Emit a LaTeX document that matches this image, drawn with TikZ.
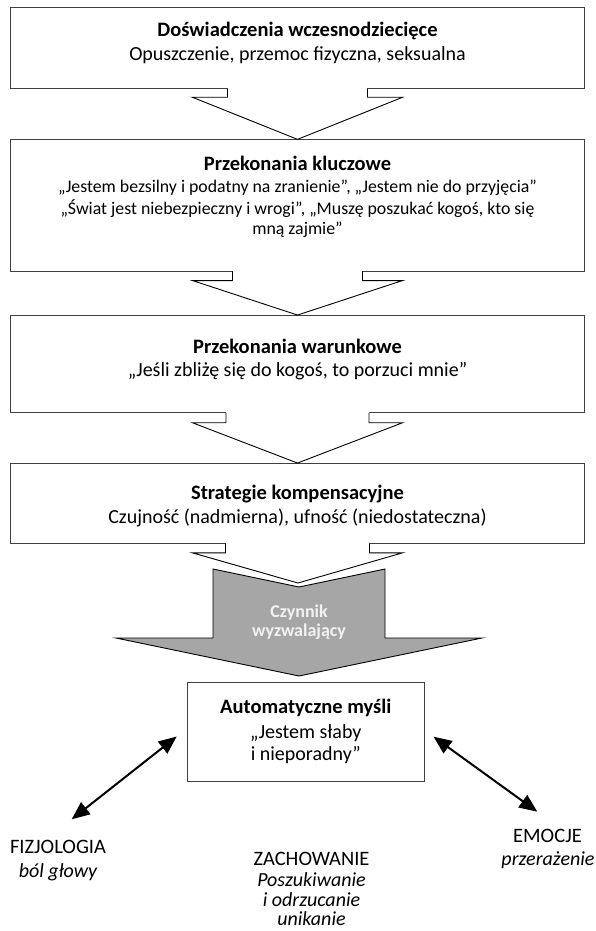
\documentclass[tikz,border=0pt]{standalone}
\usepackage{fontspec}
\setmainfont{Carlito}
\usetikzlibrary{calc,arrows.meta}

\definecolor{boxline}{HTML}{404040}
\definecolor{triggerfill}{HTML}{A6A6A6}
\definecolor{triggertext}{HTML}{F2F2F2}

\newcommand\titlesize{\fontsize{20.5}{24}\selectfont}
\newcommand\bodysize{\fontsize{20}{24}\selectfont}
\newcommand\smallbodysize{\fontsize{17.8}{21}\selectfont}

% open block arrow hanging below a box: #1 upper box, #2 tip, #3 stem half width, #4 depth of the head base
\newcommand\downchevron[4]{%
  \fill[white] ($(#1.south)+(-#3,-1.5)$) -- ($(#1.south)+(-#3,#4)$) -- ($(#1.south)+(-105,#4)$)
     -- (#2) -- ($(#1.south)+(105,#4)$) -- ($(#1.south)+(#3,#4)$) -- ($(#1.south)+(#3,-1.5)$) -- cycle;
  \draw[chevronline] ($(#1.south)+(-#3,0)$) -- ($(#1.south)+(-#3,#4)$) -- ($(#1.south)+(-105,#4)$)
     -- (#2) -- ($(#1.south)+(105,#4)$) -- ($(#1.south)+(#3,#4)$) -- ($(#1.south)+(#3,0)$);
}

\begin{document}
\begin{tikzpicture}[x=1pt,y=-1pt,
  box/.style={draw=boxline, line width=1.1pt, fill=white, inner sep=0pt, outer sep=0pt, minimum width=574pt},
  title/.style={font=\titlesize\bfseries, inner sep=0pt},
  body/.style={font=\bodysize, inner sep=0pt},
  smallbody/.style={font=\smallbodysize, inner sep=0pt},
  label/.style={font=\titlesize, inner sep=0pt},
  note/.style={font=\bodysize\itshape, inner sep=0pt},
  chevronline/.style={draw=black, line width=0.9pt, line join=miter},
  twoway/.style={{Triangle[length=18pt,width=15pt]}-{Triangle[length=18pt,width=15pt]}, line width=2pt}]

\useasboundingbox (0,0) rectangle (595,931);

% boxes
\node[box, minimum height=81pt]   (b1) at (297.5,47.8)  {};
\node[box, minimum height=131.7pt] (b2) at (297.5,205.2) {};
\node[box, minimum height=97.7pt] (b3) at (297.5,363.9) {};
\node[box, minimum height=80.3pt] (b4) at (297.5,503.2) {};
\node[box, minimum width=237pt, minimum height=99pt] (b5) at (305.8,732.2) {};

% texts of the boxes
\node[title] (b1a) at (297.5,31) {Doświadczenia wczesnodziecięce};
\node[body]  (b1b) at (297.5,55) {Opuszczenie, przemoc fizyczna, seksualna};

\node[title]     (b2a) at (297.5,163) {Przekonania kluczowe};
\node[smallbody] (b2b) at (297.5,188) {„Jestem bezsilny i podatny na zranienie”, „Jestem nie do przyjęcia”};
\node[smallbody] (b2c) at (297.5,209) {„Świat jest niebezpieczny i wrogi”, „Muszę poszukać kogoś, kto się};
\node[smallbody] (b2d) at (297.5,230) {mną zajmie”};

\node[title] (b3a) at (297.5,346) {Przekonania warunkowe};
\node[body]  (b3b) at (297.5,371) {„Jeśli zbliżę się do kogoś, to porzuci mnie”};

\node[title] (b4a) at (297.5,494) {Strategie kompensacyjne};
\node[body]  (b4b) at (297.5,518) {Czujność (nadmierna), ufność (niedostateczna)};

\node[title] (b5a) at (305.8,707.5) {Automatyczne myśli};
\node[body]  (b5b) at (305.8,733) {„Jestem słaby};
\node[body]  (b5c) at (305.8,755) {i nieporadny”};

% open arrows between the boxes
\coordinate (t4) at (298,583);
\downchevron{b1}{b2.north}{70}{9}
\downchevron{b2}{b3.north}{65}{9.5}
\downchevron{b3}{b4.north}{71.5}{10}
\downchevron{b4}{t4}{72}{9.5}

% grey trigger arrow
\filldraw[fill=triggerfill, draw=black, line width=0.9pt, line join=miter]
  (213,569) -- (299,587) -- (385,569) -- (385,638) -- (482,638) -- (299,676)
  -- (116,638) -- (213,638) -- cycle;
\node[font=\fontsize{18}{19}\selectfont\bfseries, text=triggertext, align=center, inner sep=0pt]
  (trig) at (299,622) {Czynnik\\wyzwalający};

% outer labels
\node[label] (fiz)  at (58,847)   {FIZJOLOGIA};
\node[note]  (fiz2) at (58,872)   {ból głowy};
\node[label] (emo)  at (547.5,836) {EMOCJE};
\node[note]  (emo2) at (548,860)  {przerażenie};
\node[label] (zach) at (311.5,859) {ZACHOWANIE};
\node[note]  (zach2) at (311.5,880) {Poszukiwanie};
\node[note]  (zach3) at (311.5,900) {i odrzucanie};
\node[note]  (zach4) at (311.5,919) {unikanie};

% two-way arrows
\coordinate (la) at (176.7,736.5);
\coordinate (lb) at (71.7,819.3);
\coordinate (ra) at (433.5,736.7);
\coordinate (rb) at (537.3,811.7);
\draw[twoway] (la) -- (lb);
\draw[twoway] (ra) -- (rb);

\end{tikzpicture}
\end{document}
